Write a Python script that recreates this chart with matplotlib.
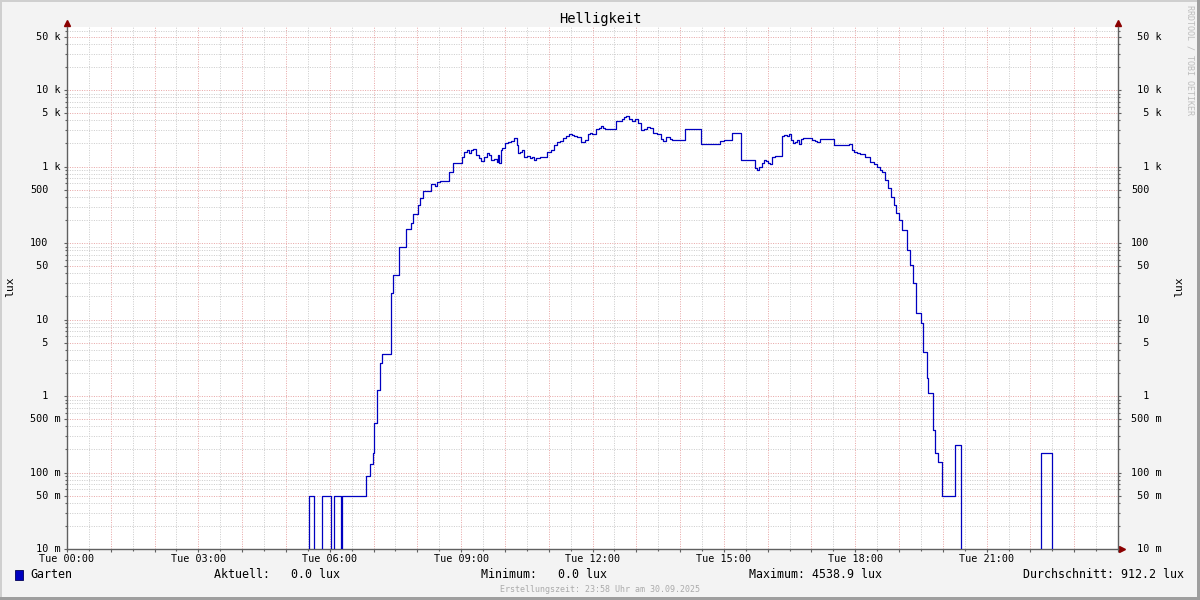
import matplotlib
matplotlib.use("Agg")
import matplotlib.pyplot as plt
import matplotlib.transforms as mtransforms
from matplotlib.patches import Rectangle
import numpy as np

MONO = "DejaVu Sans Mono"
plt.rcParams["font.family"] = [MONO, "DejaVu Sans"]

# ----------------------------------------------------------
# data (hour of day, lux)
# ----------------------------------------------------------
hours = [0.00, 5.53, 5.65, 5.82, 6.03, 6.10, 6.25, 6.29,
         6.83, 6.92, 6.98, 7.02, 7.09, 7.15, 7.19,
         7.40, 7.45, 7.58, 7.73, 7.85, 7.91, 8.02, 8.07, 8.14, 8.31, 8.40, 8.45,
         8.52, 8.73, 8.82, 9.02, 9.06, 9.13, 9.18, 9.22, 9.27, 9.34, 9.41, 9.45,
         9.52, 9.59, 9.64, 9.68, 9.75, 9.82, 9.84, 9.86, 9.90, 9.93, 10.00,
         10.07, 10.14, 10.21, 10.27, 10.30, 10.34, 10.39, 10.43, 10.50, 10.57,
         10.62, 10.66, 10.71, 10.75, 10.80, 10.96, 11.05, 11.12, 11.19, 11.26,
         11.32, 11.39, 11.46, 11.53, 11.58, 11.64, 11.74, 11.83, 11.89, 11.94,
         11.99, 12.08, 12.15, 12.19, 12.24, 12.28, 12.35, 12.53, 12.67, 12.73,
         12.76, 12.83, 12.90, 12.97, 13.04, 13.11, 13.17, 13.24, 13.31, 13.38,
         13.47, 13.56, 13.61, 13.68, 13.77, 13.81, 14.11, 14.48, 14.91, 15.00,
         15.18, 15.39, 15.71, 15.75, 15.80, 15.87, 15.91, 15.96, 16.01, 16.05,
         16.10, 16.16, 16.32, 16.37, 16.44, 16.48, 16.53, 16.58, 16.62, 16.67,
         16.71, 16.76, 16.80, 17.01, 17.08, 17.12, 17.19, 17.51, 17.85, 17.88,
         17.92, 17.97, 18.04, 18.11, 18.22, 18.33, 18.43, 18.49, 18.56, 18.61,
         18.68, 18.74, 18.81, 18.88, 18.93, 19.00, 19.06, 19.18, 19.25, 19.32,
         19.38, 19.50, 19.54, 19.64, 19.66, 19.77, 19.82, 19.89, 19.98, 20.27,
         20.41, 22.25, 22.49, 24.00]

lux = [0.0, 0.05, 0.0, 0.05, 0.0, 0.05, 0.0, 0.05,
       0.09, 0.13, 0.18, 0.44, 1.2, 2.7, 3.5,
       22, 38, 90, 151, 181, 239, 314, 384, 474, 585, 556, 632,
       646, 855, 1100, 1344, 1561, 1643, 1487, 1620, 1687, 1414, 1279, 1191,
       1344, 1514, 1414, 1217, 1244, 1159, 1414, 1100, 1643, 1728, 2010,
       2070, 2160, 2335, 1910, 1487, 1561, 1643, 1344, 1370, 1279,
       1330, 1217, 1290, 1279, 1344, 1561, 1643, 1910, 2070, 2140,
       2335, 2530, 2650, 2570, 2500, 2410, 2070, 2210, 2650, 2760,
       2650, 3060, 3184, 3360, 3150, 3080, 3060, 3940, 4150, 4400,
       4538.9, 4150, 3960, 4150, 3660, 3000, 3060, 3240, 3150, 2760,
       2650, 2280, 2140, 2450, 2280, 2210, 3060, 1950, 2160, 2210,
       2720, 1217, 947, 890, 1000, 1100, 1217, 1190, 1100, 1070,
       1320, 1360, 2500, 2570, 2500, 2640, 2210, 2040, 2100, 2210,
       1990, 2270, 2330, 2210, 2150, 2100, 2280, 1910, 1950, 1980,
       1640, 1560, 1490, 1457, 1343, 1156, 1079, 994, 900, 855,
       666, 519, 403, 314, 244, 200, 148, 81, 51.5, 29.7,
       12.1, 8.9, 3.8, 1.7, 1.1, 0.36, 0.178, 0.138, 0.05, 0.229,
       0.0, 0.178, 0.0, 0.0]

tick_hours = [0, 3, 6, 9, 12, 15, 18, 21]
tick_labels = ["Tue 00:00", "Tue 03:00", "Tue 06:00", "Tue 09:00",
               "Tue 12:00", "Tue 15:00", "Tue 18:00", "Tue 21:00"]

y_ticks = [50000, 10000, 5000, 1000, 500, 100, 50, 10, 5, 1, 0.5, 0.1, 0.05, 0.01]
y_labels = [" 50 k", " 10 k", "  5 k", "  1 k", "500", "100", " 50", " 10",
            "  5", "  1", "500 m", "100 m", " 50 m", " 10 m"]

legend_items = [(30, "Garten"), (214, "Aktuell:   0.0 lux"), (481, "Minimum:   0.0 lux"),
                (749, "Maximum: 4538.9 lux"), (1023, "Durchschnitt: 912.2 lux")]

# ----------------------------------------------------------
# figure
# ----------------------------------------------------------
W, H = 1200, 600
LINE = "#0000C0"
GRID = "#CDCDCD"
MGRID = "#E8A8A8"
AXIS = "#606060"
ARROW = "#8B0000"

fig = plt.figure(figsize=(12, 6), dpi=100, facecolor="#F3F3F3")
ax = fig.add_axes([67 / W, 51 / H, 1051 / W, 522 / H])
ax.set_facecolor("white")
ax.set_yscale("log")
ax.set_xlim(0, 24)
ax.set_ylim(0.01, 10 ** 4.824)

# grid: 30 min gray, 1 h red; decades 1/5 red, rest gray (dotted)
dots = (0, (1, 1.4))
for k in range(1, 48):
    c = MGRID if k % 2 == 0 else GRID
    ax.axvline(k / 2, color=c, lw=0.72, ls=dots, zorder=0)

minor_y = []
for d in range(-2, 5):
    for m in range(1, 10):
        v = m * 10.0 ** d
        if v <= 0.01 or v > 10 ** 4.824:
            continue
        c = MGRID if m in (1, 5) else GRID
        if m not in (1, 5):
            minor_y.append(v)
        ax.axhline(v, color=c, lw=0.72, ls=dots, zorder=0)

# series
vals = np.array(lux, dtype=float)
vals = np.where(vals <= 0, 1e-4, vals)
ax.step(hours, vals, where="post", color=LINE, lw=0.9, zorder=3)

# axes, ticks
ax.spines["top"].set_visible(False)
for s in ("left", "bottom", "right"):
    ax.spines[s].set_color(AXIS)
    ax.spines[s].set_linewidth(1.0)

ax.set_yticks(y_ticks)
ax.set_yticks(minor_y, minor=True)
ax.set_xticks(range(0, 25))
ax.set_xticks([k / 2 for k in range(1, 48, 2)], minor=True)
ax.tick_params(which="both", labelleft=False, labelbottom=False,
               left=True, right=True, bottom=True, direction="out",
               color=AXIS, width=0.8)
ax.tick_params(which="major", length=2.5)
ax.tick_params(which="minor", length=1.5)

# arrows at axis ends
ax.plot([0], [1.008], marker="^", ms=4.5, color=ARROW, transform=ax.transAxes, clip_on=False)
ax.plot([1], [1.008], marker="^", ms=4.5, color=ARROW, transform=ax.transAxes, clip_on=False)
ax.plot([1.0035], [0], marker=">", ms=4.5, color=ARROW, transform=ax.transAxes, clip_on=False)

# tick labels
trans_y = mtransforms.blended_transform_factory(fig.transFigure, ax.transData)
for v, s in zip(y_ticks, y_labels):
    ax.text(30 / W, v, s, transform=trans_y, ha="left", va="center", fontsize=7.3, family=MONO)
    ax.text(1131 / W, v, s, transform=trans_y, ha="left", va="center", fontsize=7.3, family=MONO)

trans_x = mtransforms.blended_transform_factory(ax.transData, fig.transFigure)
for h, s in zip(tick_hours, tick_labels):
    ax.text(h, 1 - 559 / H, s, transform=trans_x, ha="center", va="center", fontsize=7.3, family=MONO)

# texts
fig.text(0.5, 1 - 19 / H, "Helligkeit", ha="center", va="center", fontsize=9.9, family=MONO)
fig.text(10 / W, 1 - 287 / H, "lux", rotation=90, ha="center", va="center", fontsize=8.2, family=MONO)
fig.text(1179 / W, 1 - 287 / H, "lux", rotation=90, ha="center", va="center", fontsize=8.2, family=MONO)
fig.text(1190 / W, 1 - 60 / H, "RRDTOOL / TOBI OETIKER", rotation=270, ha="center", va="center",
         fontsize=6, color="#BDBDBD", family=MONO)

# legend
fig.add_artist(Rectangle((15 / W, 1 - 580 / H), 8 / W, 10 / H, transform=fig.transFigure,
                         facecolor=LINE, edgecolor="#000055", lw=0.6))
for x, s in legend_items:
    fig.text(x / W, 1 - 575 / H, s, ha="left", va="center", fontsize=8.4, family=MONO)
fig.text(0.5, 1 - 589 / H, "Erstellungszeit: 23:58 Uhr am 30.09.2025", ha="center", va="center",
         fontsize=6, color="#ABABAB", family=MONO)

# frame
fig.add_artist(Rectangle((0, 1 - 2 / H), 1, 2 / H, transform=fig.transFigure, color="#CFCFCF", lw=0))
fig.add_artist(Rectangle((0, 0), 2 / W, 1, transform=fig.transFigure, color="#CFCFCF", lw=0))
fig.add_artist(Rectangle((0, 0), 1, 3 / H, transform=fig.transFigure, color="#9E9E9E", lw=0))
fig.add_artist(Rectangle((1 - 3 / W, 0), 3 / W, 1, transform=fig.transFigure, color="#9E9E9E", lw=0))

fig.savefig("out.png", dpi=100, facecolor=fig.get_facecolor())
